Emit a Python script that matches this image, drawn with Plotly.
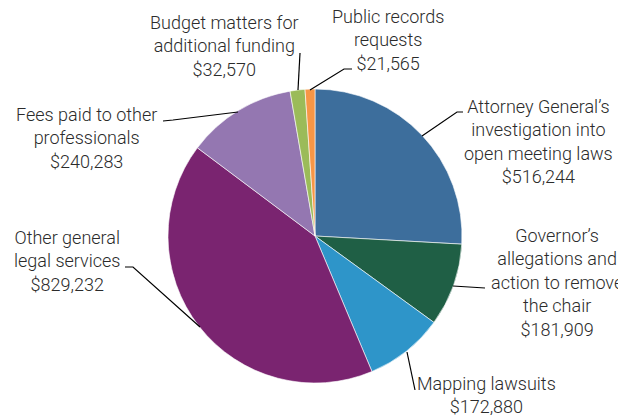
import plotly.graph_objects as go

# page body has an 8px margin, so the figure is drawn 8px in from the corner
OFF = 8
W, H = 626 - OFF, 415 - OFF

categories = [
    "Attorney General\u2019s<br>investigation into<br>open meeting laws",
    "Governor\u2019s<br>allegations and<br>action to remove<br>the chair",
    "Mapping lawsuits",
    "Other general<br>legal services",
    "Fees paid to other<br>professionals",
    "Budget matters for<br>additional funding",
    "Public records<br>requests",
]
amounts = [516244, 181909, 172880, 829232, 240283, 32570, 21565]
colors = ["#3D6E9C", "#1F5F45", "#2E95C9", "#7A2470", "#9477B1", "#9BBB59", "#F79646"]

# label centre (screen px) and leader line points (screen px), per category
label_pos = [(538, 141), (557, 282), (487, 395), (67, 261), (86, 138), (224, 46), (388, 40)]
leaders = [
    [(422, 136), (457, 112), (463, 112)],
    [(453, 286), (485, 288)],
    [(407, 352), (415, 390)],
    [(200, 327), (133, 267), (125, 267)],
    [(238, 112), (173, 120), (163, 121)],
    [(298, 90), (300, 53)],
    [(310, 90), (344, 69), (352, 69)],
]


def px(x, y):
    return (x - OFF) / W, 1 - (y - OFF) / H


cx, cy, r = 315, 236, 147
x0, y1 = px(cx - r, cy - r)
x1, y0 = px(cx + r, cy + r)

fig = go.Figure(
    go.Pie(
        labels=[c.replace("<br>", " ") for c in categories],
        values=amounts,
        sort=False,
        direction="clockwise",
        rotation=0,
        marker=dict(colors=colors, line=dict(color="white", width=0.6)),
        textinfo="none",
        hoverinfo="label+value",
        domain=dict(x=[x0, x1], y=[y0, y1]),
    )
)

for cat, amt, (lx, ly), pts in zip(categories, amounts, label_pos, leaders):
    x, y = px(lx, ly)
    fig.add_annotation(
        x=x, y=y, xref="paper", yref="paper",
        text=f"{cat}<br>${amt:,}",
        showarrow=False, align="center",
        xanchor="center", yanchor="middle",
    )
    path = "M " + " L ".join(f"{px(a, b)[0]},{px(a, b)[1]}" for a, b in pts)
    fig.add_shape(type="path", path=path, xref="paper", yref="paper",
                  line=dict(color="black", width=1.2))

fig.update_layout(
    width=W, height=H,
    margin=dict(l=0, r=0, t=0, b=0),
    paper_bgcolor="white",
    showlegend=False,
    font=dict(family="Roboto, Liberation Sans, Arial, sans-serif", size=18,
              color="#2b2b2b", weight=300),
)

fig.write_html("out.html")
